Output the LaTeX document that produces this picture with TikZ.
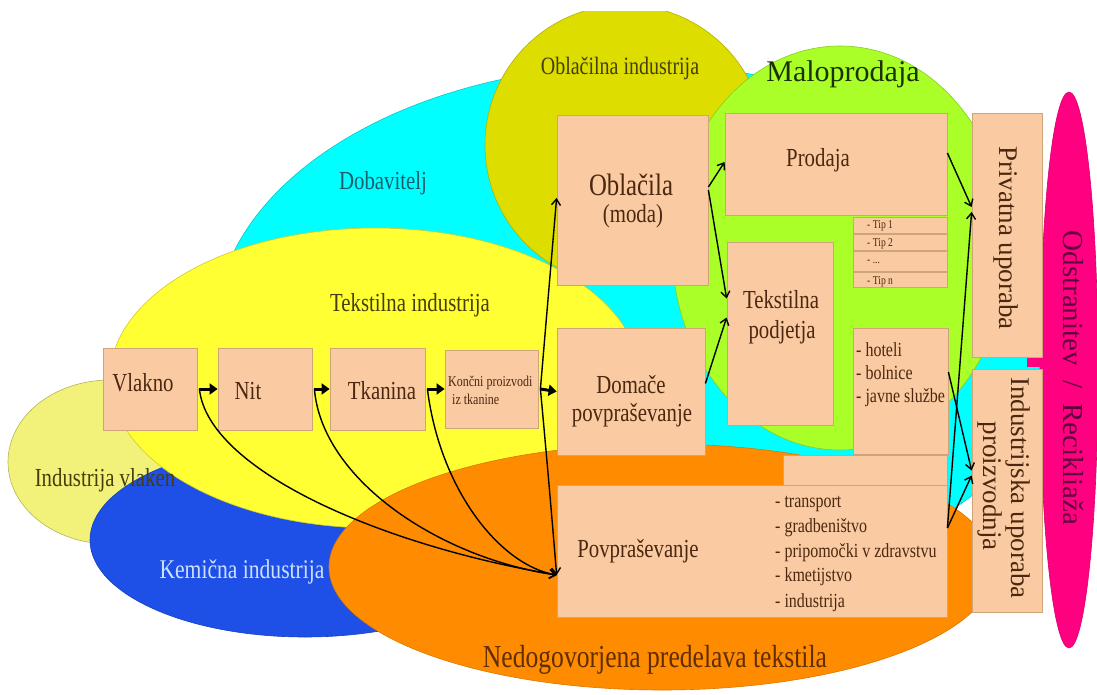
\documentclass[tikz,border=0pt]{standalone}
\usepackage{fontspec}
\setmainfont{Liberation Serif}[FakeStretch=0.8]
\newfontfamily\widefont{Liberation Serif}
\usetikzlibrary{arrows.meta}
\definecolor{cCyan}{RGB}{0,255,255}
\definecolor{cOlive}{RGB}{221,221,0}
\definecolor{cYellow}{RGB}{255,255,51}
\definecolor{cPale}{RGB}{242,242,122}
\definecolor{cBlue}{RGB}{30,80,232}
\definecolor{cGreen}{RGB}{170,255,40}
\definecolor{cOrange}{RGB}{255,140,0}
\definecolor{cMag}{RGB}{255,0,128}
\definecolor{cPeach}{RGB}{250,202,162}
\definecolor{cEdge}{RGB}{205,165,120}
\definecolor{cText}{RGB}{75,40,15}
\definecolor{cTeal}{RGB}{20,95,110}
\definecolor{cOliveTxt}{RGB}{70,62,10}
\definecolor{cKem}{RGB}{205,225,255}
\definecolor{cNed}{RGB}{95,45,0}
\definecolor{cMal}{RGB}{25,50,0}
\definecolor{cOds}{RGB}{95,0,60}
\tikzset{
  ell/.style={line width=0.6pt},
  box/.style={draw=cEdge, fill=cPeach, line width=0.8pt, inner sep=0pt, rectangle},
  lbl/.style={text=cText, inner sep=0pt},
  arr/.style={draw=black, line width=1.4pt, -{Straight Barb[length=6pt,width=9pt]}},
  chain/.style={draw=black, line width=3pt, -{Triangle[length=8pt,width=11pt]}},
}
\begin{document}
\begin{tikzpicture}[x=1pt,y=-1pt]
\useasboundingbox (0,0) rectangle (1097,695);
\fill[white] (0,0) rectangle (1097,695);
% ---------- ellipses ----------
\filldraw[ell, fill=cCyan, draw=cCyan!80!black] (640,330) ellipse [x radius=425pt, y radius=265pt];
\begin{scope}
  \clip (0,12) rectangle (1097,695);
  \filldraw[ell, fill=cOlive, draw=cOlive!80!black] (625,145) ellipse [x radius=140pt, y radius=140pt];
\end{scope}
\filldraw[ell, fill=cPale, draw=cPale!75!black] (110,462) ellipse [x radius=102pt, y radius=82pt];
\filldraw[ell, fill=cBlue, draw=cBlue!80!black] (305,540) ellipse [x radius=215pt, y radius=97pt];
\filldraw[ell, fill=cYellow, draw=cYellow!80!black] (375,378) ellipse [x radius=265pt, y radius=150pt];
\filldraw[ell, fill=cGreen, draw=cGreen!80!black] (840,248) ellipse [x radius=168pt, y radius=202pt];
\filldraw[ell, fill=cOrange, draw=cOrange!85!black] (662,567) ellipse [x radius=333pt, y radius=123pt];
\filldraw[ell, fill=cMag, draw=cMag!85!black] (1069,370) ellipse [x radius=29pt, y radius=278pt];
\fill[cMag] (1027,358) rectangle (1045,367);
% ---------- ellipse labels ----------
\node[inner sep=0pt, text=cOliveTxt, font=\fontsize{25}{28}\selectfont] (tOblInd) at (620,68) {Oblačilna industrija};
\node[inner sep=0pt, text=cMal, font=\widefont\fontsize{30}{34}\selectfont] (tMalo) at (843,74) {Maloprodaja};
\node[inner sep=0pt, text=cTeal, font=\fontsize{26}{30}\selectfont] (tDob) at (383,183) {Dobavitelj};
\node[inner sep=0pt, text=cOliveTxt, font=\fontsize{26}{30}\selectfont] (tTekInd) at (410,305) {Tekstilna industrija};
\node[inner sep=0pt, text=cOliveTxt, font=\fontsize{26}{30}\selectfont] (tVlak) at (105,480) {Industrija vlaken};
\node[inner sep=0pt, text=cKem, font=\fontsize{27}{30}\selectfont] (tKem) at (242,572) {Kemična industrija};
\node[inner sep=0pt, text=cNed, font=\fontsize{32}{36}\selectfont] (tNed) at (655,660) {Nedogovorjena predelava tekstila};
\node[inner sep=0pt, text=cOds, rotate=-90, font=\widefont\fontsize{29}{34}\selectfont] (tOds) at (1073,378) {Odstranitev\enspace/\enspace Recikliaža};
% ---------- boxes ----------
\node[box, minimum width=94pt, minimum height=82pt] (vlakno) at (150,389) {};
\node[box, minimum width=94pt, minimum height=82pt] (nit) at (265,389) {};
\node[box, minimum width=95pt, minimum height=82pt] (tkanina) at (377.5,389) {};
\node[box, minimum width=93pt, minimum height=78pt] (koncni) at (491.5,389) {};
\node[box, minimum width=148pt, minimum height=127pt] (domace) at (631,391.5) {};
\node[box, minimum width=151pt, minimum height=170pt] (oblacila) at (632.5,200) {};
\node[box, minimum width=222pt, minimum height=102pt] (prodaja) at (836,164) {};
\node[box, minimum width=94pt, minimum height=16pt] (tip1) at (900,225) {};
\node[box, minimum width=94pt, minimum height=16pt] (tip2) at (900,242) {};
\node[box, minimum width=94pt, minimum height=20pt] (tip3) at (900,261) {};
\node[box, minimum width=94pt, minimum height=15pt] (tip4) at (900,279.5) {};
\node[box, minimum width=106pt, minimum height=183pt] (tekpod) at (780,333.5) {};
\node[box, minimum width=95pt, minimum height=126pt] (hoteli) at (900.5,391) {};
\node[box, minimum width=164pt, minimum height=30pt] (prazno) at (865,470) {};
\node[box, minimum width=390pt, minimum height=132pt] (povp) at (752,551) {};
\node[box, minimum width=70pt, minimum height=244pt] (priv) at (1007,235) {};
\node[box, minimum width=70pt, minimum height=243pt] (ind) at (1007,490.5) {};
% ---------- box labels ----------
\node[lbl, font=\fontsize{26}{30}\selectfont] (lVlakno) at (143,383) {Vlakno};
\node[lbl, font=\fontsize{26}{30}\selectfont] (lNit) at (248,391) {Nit};
\node[lbl, font=\fontsize{26}{30}\selectfont] (lTkan) at (382,391) {Tkanina};
\node[lbl, anchor=base west, font=\fontsize{15}{18}\selectfont] (lKon1) at (448,386) {Končni proizvodi};
\node[lbl, anchor=base west, font=\fontsize{15}{18}\selectfont] (lKon2) at (452,404) {iz tkanine};
\node[lbl, font=\fontsize{31}{34}\selectfont] (lObl1) at (631,185) {Oblačila};
\node[lbl, font=\fontsize{26}{30}\selectfont] (lObl2) at (633,216) {(moda)};
\node[lbl, font=\fontsize{26}{30}\selectfont] (lDom1) at (631,385) {Domače};
\node[lbl, font=\fontsize{26}{30}\selectfont] (lDom2) at (632,415) {povpraševanje};
\node[lbl, font=\fontsize{26}{30}\selectfont] (lProd) at (818,160) {Prodaja};
\node[lbl, font=\fontsize{26}{30}\selectfont] (lTek1) at (781,300) {Tekstilna};
\node[lbl, font=\fontsize{26}{30}\selectfont] (lTek2) at (782,332) {podjetja};
\node[lbl, anchor=base west, font=\fontsize{12}{14}\selectfont] (lTip1) at (867,229) {- Tip 1};
\node[lbl, anchor=base west, font=\fontsize{12}{14}\selectfont] (lTip2) at (867,246) {- Tip 2};
\node[lbl, anchor=base west, font=\fontsize{12}{14}\selectfont] (lTip3) at (867,263) {- ...};
\node[lbl, anchor=base west, font=\fontsize{12}{14}\selectfont] (lTip4) at (867,284) {- Tip n};
\node[lbl, anchor=base west, font=\fontsize{20}{23}\selectfont] (lH1) at (856,356) {- hoteli};
\node[lbl, anchor=base west, font=\fontsize{20}{23}\selectfont] (lH2) at (856,379) {- bolnice};
\node[lbl, anchor=base west, font=\fontsize{20}{23}\selectfont] (lH3) at (856,402) {- javne službe};
\node[lbl, font=\fontsize{26}{30}\selectfont] (lPovp) at (638,551) {Povpraševanje};
\node[lbl, anchor=base west, font=\fontsize{20}{23}\selectfont] (lP1) at (775,507) {- transport};
\node[lbl, anchor=base west, font=\fontsize{20}{23}\selectfont] (lP2) at (775,532) {- gradbeništvo};
\node[lbl, anchor=base west, font=\fontsize{20}{23}\selectfont] (lP3) at (775,557) {- pripomočki v zdravstvu};
\node[lbl, anchor=base west, font=\fontsize{20}{23}\selectfont] (lP4) at (775,581) {- kmetijstvo};
\node[lbl, anchor=base west, font=\fontsize{20}{23}\selectfont] (lP5) at (775,607) {- industrija};
\node[lbl, rotate=-90, font=\widefont\fontsize{27}{30}\selectfont] (lPriv) at (1006,238) {Privatna uporaba};
\node[lbl, rotate=-90, font=\widefont\fontsize{27}{30}\selectfont] (lInd1) at (1018,488) {Industrijska uporaba};
\node[lbl, rotate=-90, font=\widefont\fontsize{27}{30}\selectfont] (lInd2) at (990,486) {proizvodnja};
% ---------- connectors ----------
\draw[chain] ([xshift=2pt]vlakno.east) -- (nit.west);
\draw[chain] ([xshift=2pt]nit.east) -- (tkanina.west);
\draw[chain] ([xshift=2pt]tkanina.east) -- (koncni.west);
\draw[chain] ([xshift=2pt]koncni.east) -- (domace.west);
\draw[arr] ([xshift=2pt]vlakno.east) .. controls (208,470) and (380,545) .. ([yshift=-24pt]povp.west);
\draw[arr] ([xshift=2pt]nit.east) .. controls (322,480) and (440,558) .. ([yshift=-24pt]povp.west);
\draw[arr] ([xshift=2pt]tkanina.east) .. controls (440,490) and (500,565) .. ([yshift=-24pt]povp.west);
\draw[arr] ([xshift=2pt]koncni.east) .. controls (547,460) and (553,530) .. ([yshift=-24pt]povp.west);
\draw[arr] ([xshift=2pt]koncni.east) -- ([yshift=2pt]oblacila.west);
\draw[arr] ([yshift=13pt]oblacila.east) -- ([yshift=2pt]prodaja.west);
\draw[arr] ([yshift=10pt]oblacila.east) -- ([yshift=35pt]tekpod.west);
\draw[arr] ([yshift=8pt]domace.east) -- ([yshift=16pt]tekpod.west);
\draw[arr] ([yshift=11pt]prodaja.east) -- ([yshift=28pt]priv.west);
\draw[arr] ([yshift=23pt]povp.east) -- ([yshift=23pt]priv.west);
\draw[arr] ([yshift=19pt]hoteli.east) -- ([yshift=20pt]ind.west);
\draw[arr] ([yshift=23pt]povp.east) -- ([yshift=15pt]ind.west);
\end{tikzpicture}
\end{document}
